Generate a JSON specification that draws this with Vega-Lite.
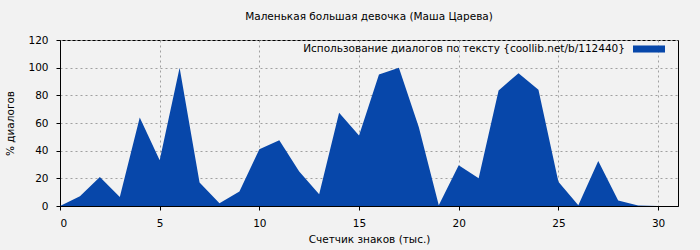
{
  "$schema": "https://vega.github.io/schema/vega-lite/v6.json",
  "autosize": "none",
  "width": 618,
  "height": 166,
  "padding": {"left": 60, "top": 40, "right": 22, "bottom": 44},
  "background": "#f2f2f2",
  "config": {
    "font": "DejaVu Sans",
    "view": {"stroke": "#000000", "strokeWidth": 1, "fill": "#f2f2f2"},
    "axis": {
      "labelFont": "DejaVu Sans",
      "labelFontSize": 10.5,
      "labelColor": "#000000",
      "titleFont": "DejaVu Sans",
      "titleFontSize": 10.5,
      "titleFontWeight": "normal",
      "titleColor": "#000000",
      "domainColor": "#000000",
      "tickColor": "#000000",
      "gridColor": "#a0a0a0",
      "gridDash": [2, 3],
      "gridOpacity": 1
    }
  },
  "title": {
    "text": "Маленькая большая девочка (Маша Царева)",
    "font": "DejaVu Sans",
    "fontSize": 10.5,
    "fontWeight": "normal",
    "color": "#000000",
    "offset": 11
  },
  "data": {
    "values": [
      {"x": 0, "y": 0, "s": "Использование диалогов по тексту {coollib.net/b/112440}"},
      {"x": 1, "y": 7, "s": "Использование диалогов по тексту {coollib.net/b/112440}"},
      {"x": 2, "y": 21, "s": "Использование диалогов по тексту {coollib.net/b/112440}"},
      {"x": 3, "y": 6.5, "s": "Использование диалогов по тексту {coollib.net/b/112440}"},
      {"x": 4, "y": 64, "s": "Использование диалогов по тексту {coollib.net/b/112440}"},
      {"x": 5, "y": 33, "s": "Использование диалогов по тексту {coollib.net/b/112440}"},
      {"x": 6, "y": 100, "s": "Использование диалогов по тексту {coollib.net/b/112440}"},
      {"x": 7, "y": 17, "s": "Использование диалогов по тексту {coollib.net/b/112440}"},
      {"x": 8, "y": 2, "s": "Использование диалогов по тексту {coollib.net/b/112440}"},
      {"x": 9, "y": 10.5, "s": "Использование диалогов по тексту {coollib.net/b/112440}"},
      {"x": 10, "y": 41, "s": "Использование диалогов по тексту {coollib.net/b/112440}"},
      {"x": 11, "y": 47.5, "s": "Использование диалогов по тексту {coollib.net/b/112440}"},
      {"x": 12, "y": 25, "s": "Использование диалогов по тексту {coollib.net/b/112440}"},
      {"x": 13, "y": 8.5, "s": "Использование диалогов по тексту {coollib.net/b/112440}"},
      {"x": 14, "y": 67.5, "s": "Использование диалогов по тексту {coollib.net/b/112440}"},
      {"x": 15, "y": 51, "s": "Использование диалогов по тексту {coollib.net/b/112440}"},
      {"x": 16, "y": 95, "s": "Использование диалогов по тексту {coollib.net/b/112440}"},
      {"x": 17, "y": 100, "s": "Использование диалогов по тексту {coollib.net/b/112440}"},
      {"x": 18, "y": 57, "s": "Использование диалогов по тексту {coollib.net/b/112440}"},
      {"x": 19, "y": 0.5, "s": "Использование диалогов по тексту {coollib.net/b/112440}"},
      {"x": 20, "y": 29.5, "s": "Использование диалогов по тексту {coollib.net/b/112440}"},
      {"x": 21, "y": 20, "s": "Использование диалогов по тексту {coollib.net/b/112440}"},
      {"x": 22, "y": 83.5, "s": "Использование диалогов по тексту {coollib.net/b/112440}"},
      {"x": 23, "y": 96, "s": "Использование диалогов по тексту {coollib.net/b/112440}"},
      {"x": 24, "y": 84, "s": "Использование диалогов по тексту {coollib.net/b/112440}"},
      {"x": 25, "y": 17.5, "s": "Использование диалогов по тексту {coollib.net/b/112440}"},
      {"x": 26, "y": 0.5, "s": "Использование диалогов по тексту {coollib.net/b/112440}"},
      {"x": 27, "y": 32.5, "s": "Использование диалогов по тексту {coollib.net/b/112440}"},
      {"x": 28, "y": 4, "s": "Использование диалогов по тексту {coollib.net/b/112440}"},
      {"x": 29, "y": 0.3, "s": "Использование диалогов по тексту {coollib.net/b/112440}"},
      {"x": 30, "y": 0, "s": "Использование диалогов по тексту {coollib.net/b/112440}"}
    ]
  },
  "mark": {"type": "area", "interpolate": "linear"},
  "encoding": {
    "x": {
      "field": "x",
      "type": "quantitative",
      "scale": {"domain": [0, 31], "nice": false, "zero": false},
      "axis": {
        "title": "Счетчик знаков (тыс.)",
        "values": [0, 5, 10, 15, 20, 25, 30],
        "tickSize": 4,
        "labelPadding": 8,
        "titlePadding": 6,
        "grid": true
      }
    },
    "y": {
      "field": "y",
      "type": "quantitative",
      "scale": {"domain": [0, 120], "nice": false},
      "axis": {
        "title": "% диалогов",
        "values": [0, 20, 40, 60, 80, 100, 120],
        "tickSize": 4,
        "labelPadding": 8,
        "titlePadding": 12,
        "grid": true
      }
    },
    "color": {
      "field": "s",
      "type": "nominal",
      "scale": {"range": ["#0747aa"]},
      "legend": {
        "title": null,
        "orient": "none",
        "legendX": 573,
        "legendY": -7,
        "symbolType": "M-1,-0.22H1V0.22H-1Z",
        "symbolSize": 1024,
        "symbolStrokeWidth": 0,
        "symbolOpacity": 1,
        "labelAlign": "right",
        "labelOffset": -40,
        "labelFont": "DejaVu Sans",
        "labelFontSize": 10.5,
        "labelColor": "#000000",
        "labelLimit": 500
      }
    }
  }
}
